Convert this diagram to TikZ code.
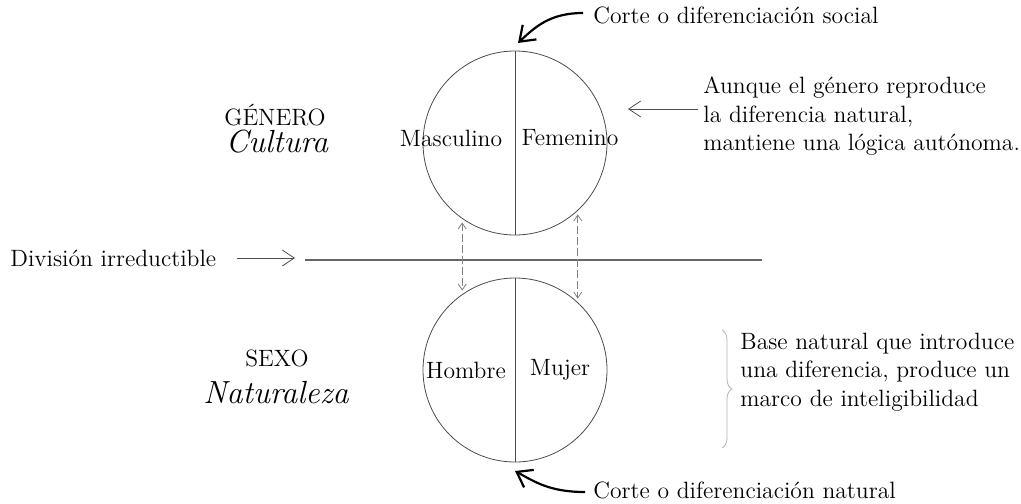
\documentclass[tikz,border=0pt]{standalone}
\usepackage{tikz}
\usetikzlibrary{arrows.meta,decorations.pathreplacing}

\tikzset{
  txt/.style={font=\fontsize{11.8}{14.25}\selectfont, inner sep=0pt},
  big/.style={font=\fontsize{16}{19}\selectfont\itshape, inner sep=0pt},
  disco/.style={circle, draw=black!70, minimum size=92pt, inner sep=0pt, outer sep=0pt},
  punta/.style={-{Straight Barb[length=6pt,width=8pt]}},
  guia/.style={black!50, dash pattern=on 4pt off 1.5pt,
    {Straight Barb[length=3pt,width=4pt]}-{Straight Barb[length=3pt,width=4pt]},
    shorten <=2pt, shorten >=2pt},
}

\begin{document}
\begin{tikzpicture}[x=0.5pt,y=-0.5pt]
  \useasboundingbox (0,0) rectangle (1021,503);

  % los dos circulos
  \node[disco] (gen) at (515,143) {};
  \node[disco] (sex) at (515,370) {};
  \draw[black!70] (gen.north) -- (gen.south);
  \draw[black!70] (sex.north) -- (sex.south);

  \node[txt] (masc) at (451,138) {Masculino};
  \node[txt] (fem) at (570,138) {Femenino};
  \node[txt] (hom) at (466,370) {Hombre};
  \node[txt] (muj) at (560,370) {Mujer};

  \node[txt] (genero) at (275,115) {GÉNERO};
  \node[big] (cult) at (277,142) {Cultura};
  \node[txt] (sexo) at (277,358) {SEXO};
  \node[big] (natu) at (276,393) {Naturaleza};

  % division
  \coordinate (lineL) at (305,260);
  \coordinate (lineR) at (762,260);
  \draw[black!60, semithick] (lineL) -- (lineR);
  \node[txt, anchor=west] (div) at (10,258) {División irreductible};
  \draw[punta, black!70] ([xshift=10pt]div.east) -- ([shift={(-10,-2)}]lineL);

  \draw[guia] (gen.235) -- (sex.125);
  \draw[guia] (gen.-47) -- (sex.47);

  % cortes
  \node[txt, anchor=west] (soc) at (593,15) {Corte o diferenciación social};
  \node[txt, anchor=west] (nat) at (593,490) {Corte o diferenciación natural};
  \draw[line width=1.1pt, -{Straight Barb[length=7pt,width=10pt]}]
    ([shift={(-10,-2)}]soc.west) .. controls (550,13) and (535,27) .. ([shift={(3,-8)}]gen.north);
  \draw[line width=1.1pt, -{Straight Barb[length=7pt,width=10pt]}]
    ([shift={(-8,2)}]nat.west) .. controls (550,492) and (535,482) .. ([shift={(0,9)}]sex.south);

  % textos de la derecha
  \node[txt, anchor=west, align=left] (aunque) at (703,116)
    {Aunque el género reproduce\\la diferencia natural,\\mantiene una lógica autónoma.};
  \draw[punta, black!70] ([shift={(-5,-7)}]aunque.west) -- ([shift={(21,-34)}]gen.east);

  \coordinate (braceT) at (722,330);
  \coordinate (braceB) at (722,448);
  \draw[black!30, decorate, decoration={brace, amplitude=5pt}] (braceT) -- (braceB);
  \node[txt, anchor=west, align=left] (base) at (740,372)
    {Base natural que introduce\\una diferencia, produce un\\marco de inteligibilidad};
\end{tikzpicture}
\end{document}
